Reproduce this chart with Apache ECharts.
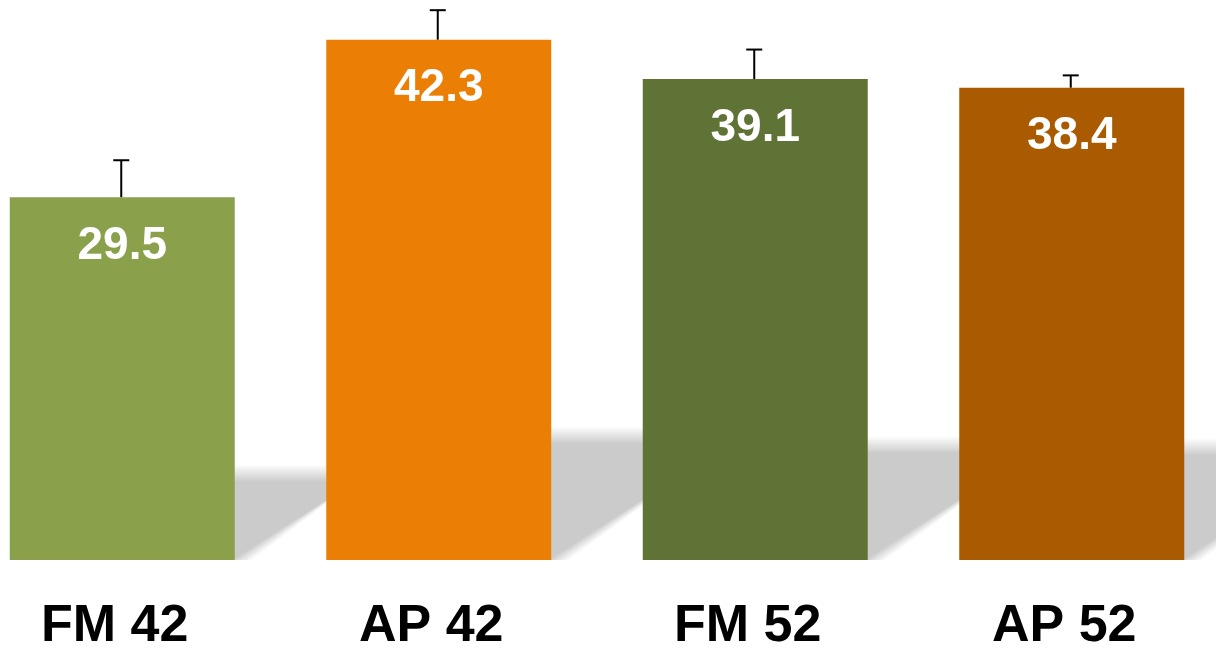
<!DOCTYPE html>
<html>
<head>
<meta charset="utf-8">
<script src="https://cdn.jsdelivr.net/npm/echarts@6/dist/echarts.min.js"></script>
<style>
html,body{margin:0;padding:0;background:#fff;}
#chart{width:1216px;height:648px;}
</style>
</head>
<body>
<div id="chart"></div>
<script>
const categories = ['FM 42', 'AP 42', 'FM 52', 'AP 52'];
const values = [29.5, 42.3, 39.1, 38.4];
const errors = [3.0, 2.4, 2.4, 1.0];
const barColors = ['#8BA04B', '#EB7F05', '#607336', '#AA5A00'];

const BAR_W = 225;
const SHADOW_RATIO = 0.24;
const SHADOW_SLOPE = 0.66;
const SHADOW_LAYERS = 14;
const SHADOW_SOFT = 8;

const chart = echarts.init(document.getElementById('chart'));

function grayAt(t) {
  const c = Math.round(255 - (255 - 203) * t);
  return 'rgb(' + c + ',' + c + ',' + c + ')';
}

const option = {
  animation: false,
  backgroundColor: '#ffffff',
  grid: { left: -36, right: -14, top: 6.5, bottom: 88, outerBoundsMode: 'none', containLabel: false },
  xAxis: {
    type: 'category',
    data: categories,
    axisLine: { show: false },
    axisTick: { show: false },
    axisLabel: {
      color: '#000',
      fontSize: 52,
      fontWeight: 'bold',
      fontFamily: 'Liberation Sans, Arial, sans-serif',
      margin: 41,
      padding: [0, 15, 0, 0]
    }
  },
  yAxis: {
    type: 'value',
    min: 0,
    max: 45,
    show: false,
    splitLine: { show: false }
  },
  series: [
    {
      type: 'custom',
      name: 'shadow',
      z: 1,
      clip: true,
      silent: true,
      data: values.map((v, i) => [i, v]),
      renderItem: function (params, api) {
        const idx = api.value(0);
        const base = api.coord([idx, 0]);
        const top = api.coord([idx, api.value(1)]);
        const h = (base[1] - top[1]) * SHADOW_RATIO;
        const dx = h / SHADOW_SLOPE;
        const hw = BAR_W / 2;
        const children = [];
        for (let k = 0; k < SHADOW_LAYERS; k++) {
          const t = (k + 1) / SHADOW_LAYERS;
          const d = -SHADOW_SOFT + 2 * SHADOW_SOFT * k / (SHADOW_LAYERS - 1);
          const sx = d * 1.3;
          children.push({
            type: 'polygon',
            shape: {
              points: [
                [base[0] - hw, base[1] + 5],
                [base[0] + hw - sx, base[1] + 5],
                [base[0] + hw + dx - sx, base[1] - h + d],
                [base[0] - hw + dx, base[1] - h + d]
              ]
            },
            style: { fill: grayAt(t) }
          });
        }
        return { type: 'group', children: children };
      }
    },
    {
      type: 'bar',
      name: 'value',
      z: 3,
      barWidth: BAR_W,
      data: values.map((v, i) => ({ value: v, itemStyle: { color: barColors[i] } })),
      label: {
        show: true,
        position: 'insideTop',
        distance: 26,
        color: '#fff',
        fontSize: 46,
        fontWeight: 'bold',
        fontFamily: 'Liberation Sans, Arial, sans-serif',
        formatter: p => p.value.toFixed(1)
      }
    },
    {
      type: 'custom',
      name: 'error',
      z: 4,
      clip: false,
      silent: true,
      data: values.map((v, i) => [i, v, v + errors[i]]),
      renderItem: function (params, api) {
        const idx = api.value(0);
        const p0 = api.coord([idx, api.value(1)]);
        const p1 = api.coord([idx, api.value(2)]);
        const capW = 8;
        const st = { stroke: '#000', lineWidth: 2 };
        return {
          type: 'group',
          children: [
            { type: 'line', shape: { x1: p0[0] - 1, y1: p0[1], x2: p1[0] - 1, y2: p1[1] }, style: st },
            { type: 'line', shape: { x1: p1[0] - 1 - capW, y1: p1[1], x2: p1[0] - 1 + capW, y2: p1[1] }, style: st }
          ]
        };
      }
    }
  ]
};

chart.setOption(option);
</script>
</body>
</html>
